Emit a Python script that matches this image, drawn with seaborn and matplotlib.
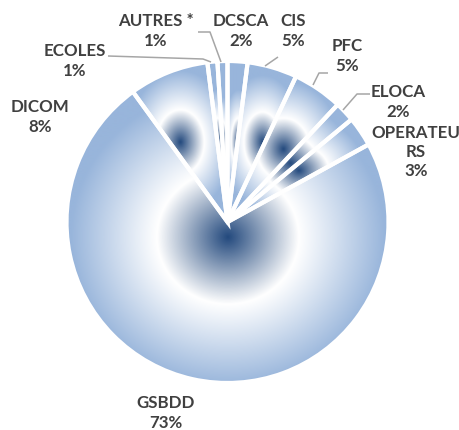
import numpy as np
import matplotlib
matplotlib.use("Agg")
import matplotlib.pyplot as plt
from matplotlib.colors import LinearSegmentedColormap
import seaborn as sns

# ---- data ----
categories = ["DCSCA", "CIS", "PFC", "ELOCA", "OPERATEURS", "GSBDD", "DICOM", "ECOLES", "AUTRES *"]
shares = [2, 5, 5, 2, 3, 73, 8, 1, 1]
label_names = ["DCSCA", "CIS", "PFC", "ELOCA", "OPERATEU\nRS", "GSBDD", "DICOM", "ECOLES", "AUTRES *"]
pct_labels = ["2%", "5%", "5%", "2%", "3%", "73%", "8%", "1%", "1%"]

# ---- layout (pixel coords, y downward) ----
label_pos = [(241, 31), (293.5, 31), (347, 56), (398, 102), (416, 152),
             (165.5, 413), (40, 117), (75, 61), (156, 31)]
leaders = {
    "CIS": [(278, 57), (265, 66)],
    "PFC": [(328, 73), (319, 73), (313, 85)],
    "ELOCA": [(370, 94), (357, 94), (343, 110)],
    "ECOLES": [(108, 56), (203, 59), (211, 62)],
    "AUTRES *": [(198, 32), (210, 32), (221, 62)],
}

sns.set_style("white")
plt.rcParams['font.family'] = ['Lato', 'DejaVu Sans']

W, H = 459, 430
fig = plt.figure(figsize=(W / 100, H / 100), dpi=100)
ax = fig.add_axes([0, 0, 1, 1])

cx, cy, R = 227.5, H - 222, 161

wedges, _ = ax.pie(shares, startangle=90, counterclock=False, center=(cx, cy), radius=R,
                   wedgeprops=dict(facecolor='none', edgecolor='white', linewidth=3, zorder=3))
ax.set_xlim(0, W)
ax.set_ylim(0, H)
ax.set_aspect('auto')
ax.axis('off')

cmap = LinearSegmentedColormap.from_list(
    'radial', [(0.0, '#244A7E'), (0.45, '#FFFFFF'), (1.0, '#98B5DB')])

for w in wedges:
    ang = np.radians(np.linspace(w.theta1, w.theta2, 400))
    xs = np.concatenate([[cx], cx + R * np.cos(ang)])
    ys = np.concatenate([[cy], cy + R * np.sin(ang)])
    x0, x1, y0, y1 = xs.min(), xs.max(), ys.min(), ys.max()
    mx, my = (x0 + x1) / 2, (y0 + y1) / 2
    hw, hh = max((x1 - x0) / 2, 1), max((y1 - y0) / 2, 1)
    G = np.sqrt(hw * hh)
    a = G * (hw / G) ** 0.58
    b = G * (hh / G) ** 0.58
    gx = np.linspace(x0, x1, max(int((x1 - x0) * 2), 4))
    gy = np.linspace(y0, y1, max(int((y1 - y0) * 2), 4))
    XX, YY = np.meshgrid(gx, gy)
    t = np.sqrt(((XX - mx) / a) ** 2 + ((YY - my) / b) ** 2)
    img = cmap(np.clip(t, 0, 1))
    im = ax.imshow(img, extent=(x0, x1, y0, y1), origin='lower', zorder=1,
                   interpolation='bilinear', aspect='auto')
    im.set_clip_path(w)

ax.set_xlim(0, W)
ax.set_ylim(0, H)

for name, pct, (px, py) in zip(label_names, pct_labels, label_pos):
    ax.text(px, H - py, f"{name}\n{pct}", ha='center', va='center', fontsize=12.2,
            fontweight='bold', color='#404040', linespacing=1.25, zorder=5)

for cat, pts in leaders.items():
    xs = [p[0] for p in pts]
    ys = [H - p[1] for p in pts]
    ax.plot(xs, ys, color='#A6A6A6', lw=1.1, zorder=4, solid_capstyle='butt')

fig.savefig("out.png", dpi=100)
